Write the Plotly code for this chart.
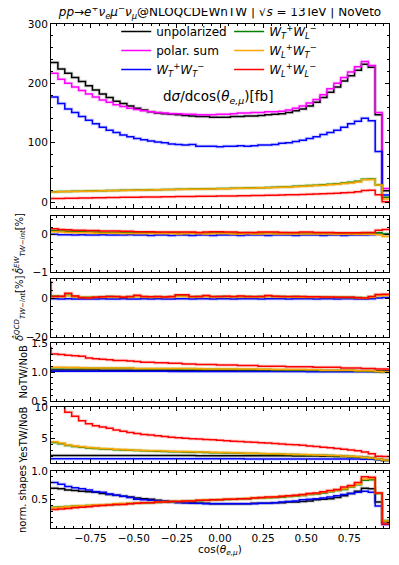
import numpy as np
import plotly.graph_objects as go
from plotly.subplots import make_subplots

# 49 bins of width 0.04 in cos(theta_e,mu)
bin_edges = np.round(np.linspace(-0.98, 0.98, 50), 2)

# panel 1: dsigma/dcos [fb]
xs_unpol = [235, 224, 217, 210, 203, 196, 189, 182, 176, 170, 166, 162, 158, 155, 152, 150, 149, 148, 147, 146,
            145, 144, 144, 143, 143, 143, 144, 144, 145, 145, 146, 147, 148, 149, 151, 154, 157, 162, 168, 176,
            185, 194, 204, 213, 222, 232, 227, 147, 19]
xs_polsum = [217, 207, 200, 194, 188, 182, 177, 172, 168, 164, 161, 158, 156, 154, 152, 151, 150, 149, 149, 148,
             148, 147, 147, 147, 148, 148, 149, 150, 150, 151, 151, 152, 152, 153, 155, 158, 162, 167, 173, 181,
             191, 200, 210, 219, 228, 237, 230, 151, 23]
xs_tt = [177, 166, 157, 151, 144, 138, 132, 126, 121, 117, 113, 110, 107, 105, 103, 101, 100, 98, 97, 96,
         97, 94, 94, 94, 93, 94, 94, 95, 94, 95, 96, 96, 97, 99, 100, 102, 104, 107, 110, 114,
         117, 121, 126, 132, 136, 141, 137, 85, 12]
xs_tl = [17.3, 17.6, 17.9, 18.2, 18.4, 18.7, 18.9, 19.2, 19.4, 19.6, 19.9, 20.1, 20.3, 20.5, 20.7, 20.9, 21.1,
         21.3, 21.5, 21.7, 21.9, 22.1, 22.3, 22.5, 22.7, 22.9, 23.2, 23.4, 23.7, 24.0, 24.3, 24.7, 25.1, 25.5,
         26.0, 26.5, 27.1, 27.7, 28.4, 29.2, 30.0, 31.0, 32.1, 33.4, 35.0, 38.6, 39.0, 29.3, 8.0]
xs_lt = [17.0, 17.3, 17.6, 17.9, 18.1, 18.4, 18.6, 18.9, 19.1, 19.3, 19.6, 19.8, 20.0, 20.2, 20.4, 20.6, 20.8,
         21.0, 21.2, 21.4, 21.6, 21.8, 22.0, 22.2, 22.4, 22.6, 22.9, 23.1, 23.4, 23.7, 24.0, 24.3, 24.7, 25.1,
         25.5, 26.0, 26.5, 27.1, 27.7, 28.4, 29.2, 30.1, 31.1, 32.3, 33.8, 37.6, 38.0, 28.6, 5.0]
xs_ll = [6.0, 6.2, 6.4, 6.6, 6.8, 7.0, 7.2, 7.4, 7.6, 7.8, 8.0, 8.1, 8.3, 8.4, 8.6, 8.7, 8.9, 9.0, 9.2, 9.3,
         9.5, 9.6, 9.8, 9.9, 10.1, 10.2, 10.4, 10.6, 10.8, 11.0, 11.2, 11.4, 11.6, 11.9, 12.2, 12.5, 12.8, 13.2,
         13.6, 14.0, 14.5, 15.0, 15.6, 16.3, 17.2, 19.6, 20.0, 12.5, 0.5]

# panel 2: EW TW-interference [%]
ew_tt = [0.01, 0.00, 0.00, -0.01, 0.00, -0.01, -0.01, 0.00, -0.01, -0.01, -0.01, 0.00, -0.01, -0.01, -0.02,
         -0.01, -0.01, -0.02, -0.01, -0.01, -0.02, -0.01, -0.01, -0.02, -0.01, -0.01, -0.01, -0.02, -0.01, -0.01,
         -0.01, -0.02, -0.01, -0.01, -0.01, -0.02, -0.01, -0.01, -0.01, -0.02, -0.01, -0.01, -0.02, -0.01,
         -0.01, -0.01, 0.00, 0.01, 0.01]
ew_tl = [0.11, 0.10, 0.09, 0.08, 0.08, 0.07, 0.07, 0.06, 0.06, 0.06, 0.06, 0.05, 0.05, 0.05, 0.05, 0.05, 0.04,
         0.05, 0.04, 0.04, 0.05, 0.04, 0.04, 0.05, 0.05, 0.04, 0.04, 0.04, 0.05, 0.04, 0.04, 0.04, 0.04, 0.05,
         0.04, 0.04, 0.04, 0.04, 0.04, 0.03, 0.04, 0.03, 0.03, 0.03, 0.03, 0.03, 0.04, 0.05, 0.02]
ew_lt = [0.08, 0.07, 0.06, 0.05, 0.05, 0.05, 0.04, 0.04, 0.04, 0.04, 0.03, 0.03, 0.03, 0.03, 0.03, 0.03, 0.03,
         0.03, 0.02, 0.03, 0.03, 0.03, 0.02, 0.03, 0.03, 0.03, 0.02, 0.02, 0.03, 0.02, 0.02, 0.03, 0.02, 0.02,
         0.02, 0.02, 0.02, 0.02, 0.02, 0.02, 0.02, 0.01, 0.01, 0.02, 0.01, 0.01, 0.01, 0.00, -0.05]
ew_ll = [0.16, 0.14, 0.13, 0.12, 0.12, 0.11, 0.11, 0.10, 0.10, 0.10, 0.09, 0.09, 0.08, 0.08, 0.08, 0.07, 0.07,
         0.07, 0.07, 0.07, 0.07, 0.06, 0.07, 0.08, 0.08, 0.07, 0.07, 0.06, 0.06, 0.06, 0.07, 0.07, 0.07, 0.06,
         0.06, 0.06, 0.07, 0.07, 0.06, 0.06, 0.06, 0.05, 0.05, 0.05, 0.05, 0.06, 0.06, 0.12, 0.14]

# panel 3: QCD TW-interference [%]
qcd_tt = [-0.2, -0.3, -0.2, -0.3, -0.4, -0.3, -0.3, -0.2, -0.3, -0.3, -0.2, -0.3, -0.3, -0.2, -0.3, -0.2, -0.3,
          -0.3, -0.2, -0.2, -0.3, -0.2, -0.2, -0.3, -0.2, -0.2, -0.3, -0.2, -0.2, -0.2, -0.3, -0.2, -0.2, -0.2,
          -0.3, -0.2, -0.2, -0.2, -0.3, -0.2, -0.2, -0.3, -0.2, -0.2, -0.3, -0.3, -0.2, 0.2, 0.4]
qcd_tl = [1.2, 1.0, 1.6, 1.0, 0.6, 0.5, 0.6, 0.8, 0.9, 0.8, 0.7, 0.8, 1.1, 0.8, 0.7, 0.8, 0.7, 0.8, 1.3, 1.2,
          0.8, 0.9, 1.1, 0.8, 0.9, 0.9, 0.8, 1.0, 0.9, 0.8, 0.9, 1.1, 0.9, 0.9, 0.8, 0.9, 0.8, 0.7, 0.7, 0.7,
          0.6, 0.6, 0.5, 0.5, 0.4, 0.3, 0.7, 1.6, 1.8]
qcd_lt = [0.9, 0.8, 1.3, 0.8, 0.5, 0.4, 0.5, 0.6, 0.7, 0.7, 0.6, 0.7, 0.9, 0.7, 0.6, 0.7, 0.6, 0.7, 1.1, 1.0,
          0.7, 0.7, 0.9, 0.7, 0.8, 0.8, 0.7, 0.8, 0.7, 0.7, 0.7, 0.9, 0.8, 0.7, 0.7, 0.7, 0.6, 0.6, 0.6, 0.5,
          0.5, 0.5, 0.4, 0.4, 0.3, 0.2, 0.5, 1.3, 1.5]
qcd_ll = [1.0, 1.1, 2.6, 1.2, 0.3, 0.2, 0.5, 0.8, 1.0, 1.0, 0.6, 0.9, 1.6, 0.9, 0.8, 0.9, 0.7, 0.9, 1.9, 1.9,
          0.9, 1.0, 1.5, 0.9, 1.0, 1.1, 0.9, 1.2, 1.0, 0.9, 1.0, 1.5, 1.1, 1.0, 0.9, 1.0, 0.9, 0.8, 0.8, 0.7,
          0.7, 0.6, 0.5, 0.5, 0.3, 0.2, 0.9, 2.0, 2.1]
qcd_ll_below = 8.5   # bin just left of the plotted range

# panel 4: NoTW/NoB
notw_unpol = [1.035, 1.035, 1.034, 1.034, 1.033, 1.033, 1.033, 1.032, 1.032, 1.032, 1.031, 1.031, 1.031,
              1.030, 1.030, 1.030, 1.029, 1.029, 1.029, 1.028, 1.028, 1.028, 1.027, 1.027, 1.027, 1.026, 1.026,
              1.026, 1.025, 1.025, 1.025, 1.024, 1.024, 1.024, 1.023, 1.023, 1.023, 1.022, 1.022, 1.022, 1.021,
              1.021, 1.021, 1.020, 1.020, 1.020, 1.019, 1.018, 1.016]
notw_tt = [1.015, 1.015, 1.014, 1.014, 1.014, 1.013, 1.013, 1.013, 1.013, 1.012, 1.012, 1.012, 1.012, 1.011,
           1.011, 1.011, 1.011, 1.010, 1.010, 1.010, 1.010, 1.010, 1.009, 1.009, 1.009, 1.009, 1.009, 1.008,
           1.008, 1.008, 1.008, 1.008, 1.007, 1.007, 1.007, 1.007, 1.007, 1.006, 1.006, 1.006, 1.006, 1.006,
           1.005, 1.005, 1.005, 1.005, 1.005, 1.004, 1.003]
notw_tl = [1.075, 1.075, 1.074, 1.073, 1.067, 1.066, 1.066, 1.065, 1.065, 1.064, 1.064, 1.063, 1.057, 1.056,
           1.056, 1.055, 1.055, 1.055, 1.054, 1.054, 1.054, 1.053, 1.047, 1.047, 1.046, 1.046, 1.046, 1.045,
           1.045, 1.045, 1.044, 1.044, 1.037, 1.037, 1.036, 1.036, 1.036, 1.035, 1.035, 1.027, 1.027, 1.026,
           1.026, 1.025, 1.017, 1.016, 1.015, 1.006, 0.996]
notw_lt = [1.080, 1.080, 1.079, 1.078, 1.072, 1.071, 1.071, 1.070, 1.070, 1.069, 1.069, 1.068, 1.062, 1.061,
           1.061, 1.060, 1.060, 1.060, 1.059, 1.059, 1.059, 1.058, 1.052, 1.052, 1.051, 1.051, 1.051, 1.050,
           1.050, 1.050, 1.049, 1.049, 1.042, 1.042, 1.041, 1.041, 1.041, 1.040, 1.040, 1.032, 1.032, 1.031,
           1.031, 1.030, 1.022, 1.021, 1.020, 1.010, 1.000]
notw_ll = [1.31, 1.30, 1.29, 1.28, 1.27, 1.24, 1.23, 1.22, 1.21, 1.20, 1.20, 1.19, 1.18, 1.17, 1.17, 1.16, 1.16,
           1.15, 1.15, 1.14, 1.14, 1.13, 1.13, 1.13, 1.12, 1.12, 1.12, 1.11, 1.11, 1.11, 1.10, 1.10, 1.10, 1.10,
           1.09, 1.09, 1.09, 1.09, 1.08, 1.08, 1.08, 1.08, 1.07, 1.07, 1.07, 1.06, 1.06, 1.05, 1.05]
notw_ll_below = 1.42

# panel 5: YesTW/NoB
yes_unpol = [2.22, 2.22, 2.22, 2.21, 2.21, 2.21, 2.21, 2.21, 2.20, 2.20, 2.20, 2.20, 2.20, 2.20, 2.20, 2.19,
             2.19, 2.19, 2.19, 2.19, 2.19, 2.18, 2.18, 2.18, 2.18, 2.18, 2.18, 2.17, 2.17, 2.17, 2.17, 2.16, 2.16,
             2.15, 2.15, 2.14, 2.13, 2.12, 2.11, 2.10, 2.08, 2.06, 2.03, 2.00, 1.95, 1.88, 1.80, 1.55, 1.42]
yes_tt = [1.68, 1.68, 1.68, 1.68, 1.68, 1.67, 1.67, 1.67, 1.67, 1.67, 1.67, 1.67, 1.67, 1.67, 1.67, 1.67, 1.67,
          1.67, 1.67, 1.67, 1.67, 1.67, 1.67, 1.67, 1.67, 1.67, 1.67, 1.67, 1.66, 1.66, 1.66, 1.66, 1.66, 1.66,
          1.66, 1.66, 1.66, 1.66, 1.65, 1.65, 1.65, 1.65, 1.64, 1.64, 1.63, 1.62, 1.61, 1.57, 1.54]
yes_tl = [4.30, 4.10, 3.82, 3.67, 3.52, 3.42, 3.34, 3.27, 3.20, 3.13, 3.08, 3.03, 2.99, 2.95, 2.91, 2.88, 2.85,
          2.82, 2.79, 2.76, 2.74, 2.71, 2.69, 2.66, 2.64, 2.61, 2.59, 2.56, 2.54, 2.51, 2.49, 2.46, 2.44, 2.41,
          2.38, 2.35, 2.32, 2.29, 2.26, 2.23, 2.20, 2.17, 2.12, 2.06, 1.99, 1.89, 1.81, 1.64, 1.49]
yes_lt = [4.40, 4.20, 3.90, 3.75, 3.60, 3.50, 3.42, 3.35, 3.28, 3.20, 3.15, 3.10, 3.06, 3.02, 2.98, 2.95, 2.92,
          2.89, 2.86, 2.83, 2.80, 2.78, 2.75, 2.72, 2.70, 2.67, 2.64, 2.61, 2.58, 2.55, 2.52, 2.50, 2.47, 2.44,
          2.41, 2.38, 2.35, 2.32, 2.29, 2.26, 2.22, 2.19, 2.14, 2.08, 2.00, 1.90, 1.82, 1.65, 1.50]
yes_ll = [12.5, 10.8, 9.15, 8.5, 7.8, 7.3, 7.0, 6.8, 6.6, 6.3, 6.1, 5.9, 5.75, 5.6, 5.48, 5.36, 5.25, 5.15, 5.06,
          4.98, 4.90, 4.84, 4.78, 4.72, 4.65, 4.58, 4.50, 4.45, 4.38, 4.32, 4.26, 4.20, 4.13, 4.06, 3.98, 3.92,
          3.85, 3.75, 3.66, 3.55, 3.45, 3.32, 3.20, 3.07, 2.95, 2.75, 2.50, 2.10, 2.05]

# panel 6: normalised shapes
shp_unpol = [0.70, 0.69, 0.67, 0.66, 0.65, 0.64, 0.63, 0.61, 0.59, 0.58, 0.56, 0.55, 0.53, 0.52, 0.51, 0.49,
             0.48, 0.47, 0.46, 0.45, 0.45, 0.44, 0.44, 0.43, 0.43, 0.43, 0.43, 0.43, 0.43, 0.44, 0.44, 0.44, 0.45,
             0.45, 0.46, 0.46, 0.47, 0.48, 0.50, 0.51, 0.52, 0.54, 0.57, 0.61, 0.65, 0.70, 0.69, 0.46, 0.12]
shp_tt = [0.80, 0.77, 0.73, 0.71, 0.69, 0.67, 0.64, 0.63, 0.60, 0.58, 0.56, 0.54, 0.51, 0.50, 0.49, 0.48, 0.47,
          0.46, 0.45, 0.45, 0.44, 0.44, 0.43, 0.43, 0.43, 0.43, 0.43, 0.43, 0.43, 0.43, 0.44, 0.44, 0.45, 0.46,
          0.47, 0.48, 0.50, 0.51, 0.52, 0.53, 0.55, 0.57, 0.59, 0.61, 0.63, 0.65, 0.63, 0.39, 0.07]
shp_tl = [0.37, 0.375, 0.385, 0.39, 0.395, 0.40, 0.405, 0.41, 0.415, 0.42, 0.43, 0.435, 0.44, 0.445, 0.45, 0.455,
          0.46, 0.465, 0.47, 0.475, 0.48, 0.485, 0.49, 0.495, 0.50, 0.505, 0.51, 0.515, 0.52, 0.525, 0.53, 0.535,
          0.54, 0.545, 0.555, 0.565, 0.575, 0.59, 0.60, 0.62, 0.64, 0.66, 0.68, 0.72, 0.76, 0.84, 0.85, 0.61, 0.14]
shp_lt = [0.36, 0.37, 0.38, 0.39, 0.395, 0.40, 0.41, 0.415, 0.42, 0.43, 0.435, 0.44, 0.445, 0.45, 0.455, 0.46,
          0.465, 0.47, 0.475, 0.48, 0.485, 0.49, 0.495, 0.50, 0.505, 0.51, 0.515, 0.52, 0.525, 0.53, 0.535, 0.54,
          0.55, 0.555, 0.565, 0.575, 0.585, 0.60, 0.61, 0.63, 0.65, 0.67, 0.69, 0.73, 0.77, 0.86, 0.87, 0.62, 0.13]
shp_ll = [0.33, 0.34, 0.35, 0.36, 0.37, 0.38, 0.39, 0.40, 0.41, 0.42, 0.42, 0.43, 0.44, 0.45, 0.45, 0.46, 0.46,
          0.47, 0.47, 0.48, 0.48, 0.49, 0.49, 0.50, 0.50, 0.51, 0.51, 0.52, 0.52, 0.53, 0.54, 0.55, 0.55, 0.56,
          0.57, 0.58, 0.59, 0.61, 0.62, 0.64, 0.66, 0.68, 0.72, 0.75, 0.80, 0.90, 0.89, 0.62, 0.08]

colors = {"unpol": (0, 0, 0), "polsum": (255, 0, 255), "tt": (0, 0, 255),
          "tl": (0, 128, 0), "lt": (255, 165, 0), "ll": (255, 0, 0)}
names = {"unpol": "unpolarized", "polsum": "polar. sum",
         "tt": "<i>W</i><sub><i>T</i></sub><sup>+</sup><i>W</i><sub><i>T</i></sub><sup>−</sup>",
         "tl": "<i>W</i><sub><i>T</i></sub><sup>+</sup><i>W</i><sub><i>L</i></sub><sup>−</sup>",
         "lt": "<i>W</i><sub><i>L</i></sub><sup>+</sup><i>W</i><sub><i>T</i></sub><sup>−</sup>",
         "ll": "<i>W</i><sub><i>L</i></sub><sup>+</sup><i>W</i><sub><i>L</i></sub><sup>−</sup>"}

FONT = "DejaVu Sans"

fig = make_subplots(rows=6, cols=1, shared_xaxes=True)


def step_xy(vals, below=None):
    xs = list(bin_edges)
    ys = list(vals) + [vals[-1]]
    if below is not None:
        xs = [bin_edges[0] - (bin_edges[1] - bin_edges[0])] + xs
        ys = [below] + ys
    return xs, ys


def add_hist(row, key, vals, below=None, legend=False):
    r, g, b = colors[key]
    xs, ys = step_xy(vals, below)
    # faint uncertainty halo
    fig.add_trace(go.Scatter(x=xs, y=ys, mode="lines", line_shape="hv",
                             line=dict(color=f"rgba({r},{g},{b},0.15)", width=3.5),
                             showlegend=False, hoverinfo="skip"), row=row, col=1)
    fig.add_trace(go.Scatter(x=xs, y=ys, mode="lines", line_shape="hv", name=names[key],
                             line=dict(color=f"rgb({r},{g},{b})", width=1.5),
                             showlegend=legend,
                             legend="legend2" if key in ("tl", "lt", "ll") else "legend"),
                  row=row, col=1)


for key, vals in [("unpol", xs_unpol), ("polsum", xs_polsum), ("tt", xs_tt),
                  ("tl", xs_tl), ("lt", xs_lt), ("ll", xs_ll)]:
    add_hist(1, key, vals, legend=True)
for key, vals in [("tt", ew_tt), ("tl", ew_tl), ("lt", ew_lt), ("ll", ew_ll)]:
    add_hist(2, key, vals)
for key, vals in [("tt", qcd_tt), ("tl", qcd_tl), ("lt", qcd_lt)]:
    add_hist(3, key, vals)
add_hist(3, "ll", qcd_ll, below=qcd_ll_below)
for key, vals in [("unpol", notw_unpol), ("tt", notw_tt), ("tl", notw_tl), ("lt", notw_lt)]:
    add_hist(4, key, vals)
add_hist(4, "ll", notw_ll, below=notw_ll_below)
for key, vals in [("unpol", yes_unpol), ("tt", yes_tt), ("tl", yes_tl), ("lt", yes_lt), ("ll", yes_ll)]:
    add_hist(5, key, vals)
for key, vals in [("unpol", shp_unpol), ("tt", shp_tt), ("tl", shp_tl), ("lt", shp_lt), ("ll", shp_ll)]:
    add_hist(6, key, vals)

# the page body has an 8px margin, so the figure is sized to fit the 399x565 window
PAGE = 8
W, H = 399 - PAGE, 565 - PAGE
ml, mr, mt, mb = 51 - PAGE, 10, 24 - PAGE, 37
ph = H - mt - mb


def dom(top_px, bot_px):
    # top/bottom given in window pixels
    return [(H - mb - (bot_px - PAGE)) / ph, (H - mb - (top_px - PAGE)) / ph]


panels = [  # (top px, bottom px, range, dtick, minor dtick, format)
    (24, 208, [-10, 300], 100, 20, ""),
    (216, 272, [-1, 0.5], 1, 0.2, ""),
    (279, 337, [-20, 10], 20, 4, ""),
    (343, 401, [0.5, 1.5], 0.5, 0.1, ".1f"),
    (407, 463, [1, 10], 5, 1, ""),
    (471, 528, [0.01, 1.0], 0.5, 0.1, ".1f"),
]

axis_common = dict(showline=True, linecolor="black", linewidth=1, mirror="ticks",
                   ticks="inside", ticklen=4, tickwidth=1, tickcolor="black",
                   showgrid=False, zeroline=False, automargin=False,
                   tickfont=dict(family=FONT, size=10.5, color="black"))

for i, (t, b, rng, dt, mdt, fmt) in enumerate(panels, start=1):
    fig.update_yaxes(domain=dom(t, b), range=rng, tick0=0, dtick=dt, tickformat=fmt,
                     minor=dict(ticks="inside", ticklen=2, dtick=mdt, tick0=0, tickcolor="black"),
                     row=i, col=1, **axis_common)
    fig.update_xaxes(range=[-0.98, 0.98], tick0=0, dtick=0.25, tickformat=".2f",
                     minor=dict(ticks="inside", ticklen=2, dtick=0.05, tick0=0, tickcolor="black"),
                     showticklabels=(i == 6), row=i, col=1, **axis_common)

ytitles = [
    (1, "<i>δ̂</i><sup><i>EW</i></sup><sub><i>TW−int</i></sub>[%]", -32),
    (2, "<i>δ̂</i><sup><i>QCD</i></sup><sub><i>TW−int</i></sub>[%]", -32),
    (3, "NoTW/NoB", -28.5),
    (4, "YesTW/NoB", -28.5),
    (5, "norm. shapes", -28.5),
]
annotations = []
for idx, text, xs in ytitles:
    t, b = panels[idx][0], panels[idx][1]
    annotations.append(dict(text=text, xref="paper", yref="paper", x=0, xshift=xs,
                            y=sum(dom(t, b)) / 2, textangle=-90, showarrow=False,
                            xanchor="center", yanchor="middle",
                            font=dict(family=FONT, size=10, color="black")))
annotations.append(dict(text="cos(<i>θ</i><sub><i>e,μ</i></sub>)", xref="paper", yref="paper",
                        x=0.5, y=0, yshift=-22, showarrow=False, xanchor="center", yanchor="middle",
                        font=dict(family=FONT, size=10.5, color="black")))
annotations.append(dict(text="d<i>σ</i>/dcos(<i>θ</i><sub><i>e,μ</i></sub>)[fb]", xref="paper", yref="paper",
                        x=0.494, y=dom(97, 97)[0], showarrow=False, xanchor="center", yanchor="middle",
                        font=dict(family=FONT, size=13.5, color="black")))

legend_style = dict(yanchor="top", xanchor="left", bgcolor="rgba(0,0,0,0)",
                    font=dict(family=FONT, size=12, color="black"), tracegroupgap=0)

fig.update_layout(
    width=W, height=H,
    margin=dict(l=ml, r=mr, t=mt, b=mb, autoexpand=False),
    paper_bgcolor="white", plot_bgcolor="white",
    font=dict(family=FONT, color="black"),
    title=dict(text="<i>pp</i>→<i>e</i><sup>+</sup><i>ν<sub>e</sub>μ</i><sup>−</sup><i>ν̄<sub>μ</sub></i>"
                    "@NLOQCDEWnTW | √<i>s</i> = 13TeV | NoVeto",
               x=0.5, xref="paper", xanchor="center", y=1, yref="container", yanchor="top",
               pad=dict(t=0, b=0),
               font=dict(family=FONT, size=12, color="black")),
    legend=dict(x=0.193, y=1.014, **legend_style),
    legend2=dict(x=0.527, y=1.014, **legend_style),
    annotations=annotations,
)

fig.write_html("out.html")
